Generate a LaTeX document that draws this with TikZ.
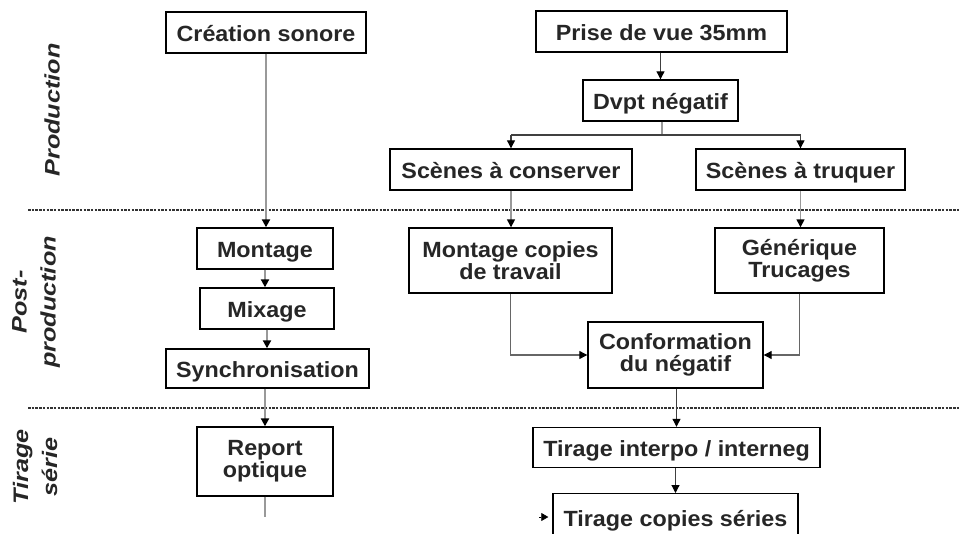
\documentclass[tikz,border=0pt]{standalone}
\usepackage{fontspec}
\setmainfont{Liberation Sans}[FakeStretch=1.06]
\newfontfamily\sidefont{Liberation Sans}[FakeStretch=1.2]
\usetikzlibrary{arrows.meta}
\begin{document}
\begin{tikzpicture}[x=1pt,y=-1pt,
  box/.style={draw=black,line width=1.4pt,fill=white,inner sep=0pt,align=center,
    font=\fontsize{22}{22}\selectfont\bfseries,text=black!85},
  onebox/.style={box,text height=18pt,text depth=0pt},
  tip/.style={-{Triangle[length=8pt,width=8pt,color=black]}},
  link/.style={draw=black!75,line width=1.1pt,tip},
  glink/.style={draw=black!40,line width=2pt,tip},
  sep/.style={draw=black!80,line width=2pt,dash pattern=on 2.5pt off 1.2pt},
  side/.style={rotate=90,align=center,font=\sidefont\fontsize{21}{29}\selectfont\bfseries\itshape,text=black!85}]
\useasboundingbox (0,0) rectangle (960,533);
% separators
\draw[sep] (28,210) -- (960,210);
\draw[sep] (28,408) -- (960,408);
% side labels
\node[side] (lp) at (52,110) {Production};
\node[side] (lpp) at (36,302) {Post-\\production};
\node[side] (lt) at (35,467) {Tirage\\série};
% boxes
\node[onebox,minimum width=200,minimum height=41] (cs) at (266,32.5) {Création sonore};
\node[onebox,minimum width=251,minimum height=41] (pv) at (661.5,31.5) {Prise de vue 35mm};
\node[onebox,minimum width=155,minimum height=41] (dn) at (660.5,100.5) {Dvpt négatif};
\node[onebox,minimum width=242,minimum height=41] (sc) at (511,169.5) {Scènes à conserver};
\node[onebox,minimum width=209,minimum height=41] (st) at (800.5,169.5) {Scènes à truquer};
\node[onebox,minimum width=136,minimum height=41] (mo) at (265,248.5) {Montage};
\node[onebox,minimum width=134,minimum height=41] (mx) at (267,308.5) {Mixage};
\node[onebox,minimum width=203,minimum height=39] (sy) at (267.5,368.5) {Synchronisation};
\node[box,minimum width=136,minimum height=69] (ro) at (265,461.5) {Report\\optique};
\node[box,minimum width=203,minimum height=65] (mc) at (510.5,260.5) {Montage copies\\de travail};
\node[box,minimum width=169,minimum height=65] (gt) at (799.5,260.5) {Générique\\Trucages};
\node[box,minimum width=175,minimum height=66] (cf) at (675.5,355) {Conformation\\du négatif};
\node[onebox,minimum width=287,minimum height=40] (ti) at (676.5,447.5) {Tirage interpo / interneg};
\node[onebox,minimum width=245,minimum height=48,anchor=north] (tc) at (675.5,493) {Tirage copies séries};
% coordinates
\coordinate (br) at (662,135);
\coordinate (roend) at ([yshift=-20pt]ro.south);
\coordinate (tcin) at (539,517);
% connectors
\draw[glink] (cs.south) -- (cs.south |- mo.north);
\draw[glink] (mo.south) -- (mx.north -| mo.south);
\draw[glink] (mx.south) -- (sy.north -| mx.south);
\draw[glink] (sy.south -| ro.north) -- (ro.north);
\draw[draw=black!40,line width=2pt] (ro.south) -- (roend);
\draw[link] (pv.south -| dn.north) -- (dn.north);
\draw[draw=black!40,line width=2pt] (dn.south -| br) -- (br);
\draw[draw=black!75,line width=1.1pt] (br -| sc.north) -- (br -| st.north);
\draw[link] (br -| sc.north) -- (sc.north);
\draw[link] (br -| st.north) -- (st.north);
\draw[glink,line width=1.4pt] (sc.south) -- (sc.south |- mc.north);
\draw[glink,line width=1.4pt] (st.south) -- (st.south |- gt.north);
\draw[draw=black!60,line width=1.1pt,tip] (mc.south) |- (cf.west);
\draw[draw=black!60,line width=1.1pt,tip] (gt.south) |- (cf.east);
\draw[link] (cf.south -| ti.north) -- (ti.north);
\draw[link] (ti.south -| tc.north) -- (tc.north);
\draw[draw=black,line width=0.6pt,shorten >=4pt,-{Triangle[length=7pt,width=8pt,color=black]}] (tcin) -- (tc.west |- tcin);
\end{tikzpicture}
\end{document}
